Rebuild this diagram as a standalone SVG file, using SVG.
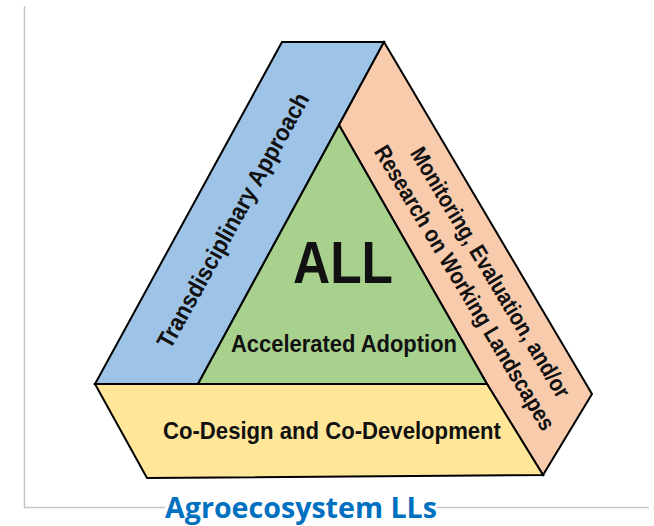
<svg xmlns="http://www.w3.org/2000/svg" width="654" height="526" viewBox="0 0 654 526">
<style>
.band{stroke:#000;stroke-width:2;stroke-linejoin:miter}
.lbl{font-family:"Liberation Sans",Arial,sans-serif;font-weight:bold;fill:#111;text-anchor:middle}
.frame{stroke:#c6c6c6;stroke-width:1.5;fill:none}
</style>
<rect width="654" height="526" fill="#fff"/>
<g id="frame">
<path class="frame" d="M24.5,6 V507.5 H165 M437,507.5 H649"/>
</g>
<g id="transdisciplinary">
<polygon class="band" fill="#9dc3e6" points="282,42 384,42 198,384 95,384"/>
<text class="lbl" font-size="24" textLength="288" lengthAdjust="spacingAndGlyphs" transform="translate(234,221) rotate(-61)" x="0" y="7">Transdisciplinary Approach</text>
</g>
<g id="monitoring">
<polygon class="band" fill="#f8cbad" points="384,42 592,394 543,475 487,384 339,125"/>
<g transform="translate(476,281) rotate(59)">
<text class="lbl" font-size="23" textLength="288" lengthAdjust="spacingAndGlyphs" x="0" y="-9">Monitoring, Evaluation, and/or</text>
<text class="lbl" font-size="23" textLength="328" lengthAdjust="spacingAndGlyphs" x="0" y="21">Research on Working Landscapes</text>
</g>
</g>
<g id="all">
<polygon class="band" fill="#a9d18e" points="339,125 487,384 198,384"/>
<text class="lbl" font-size="60" textLength="100" lengthAdjust="spacingAndGlyphs" x="343" y="283">ALL</text>
<text class="lbl" font-size="24" textLength="226" lengthAdjust="spacingAndGlyphs" x="344" y="352">Accelerated Adoption</text>
</g>
<g id="codesign">
<polygon class="band" fill="#ffe699" points="95,384 487,384 543,475 147,478"/>
<text class="lbl" font-size="24" textLength="338" lengthAdjust="spacingAndGlyphs" x="332" y="439">Co-Design and Co-Development</text>
</g>
<g id="title">
<text font-family="'Open Sans','Liberation Sans',sans-serif" font-weight="bold" font-size="28" fill="#0070c0" text-anchor="middle" textLength="272" lengthAdjust="spacingAndGlyphs" x="301" y="518">Agroecosystem LLs</text>
</g>
<g id="connectors"></g>
</svg>
